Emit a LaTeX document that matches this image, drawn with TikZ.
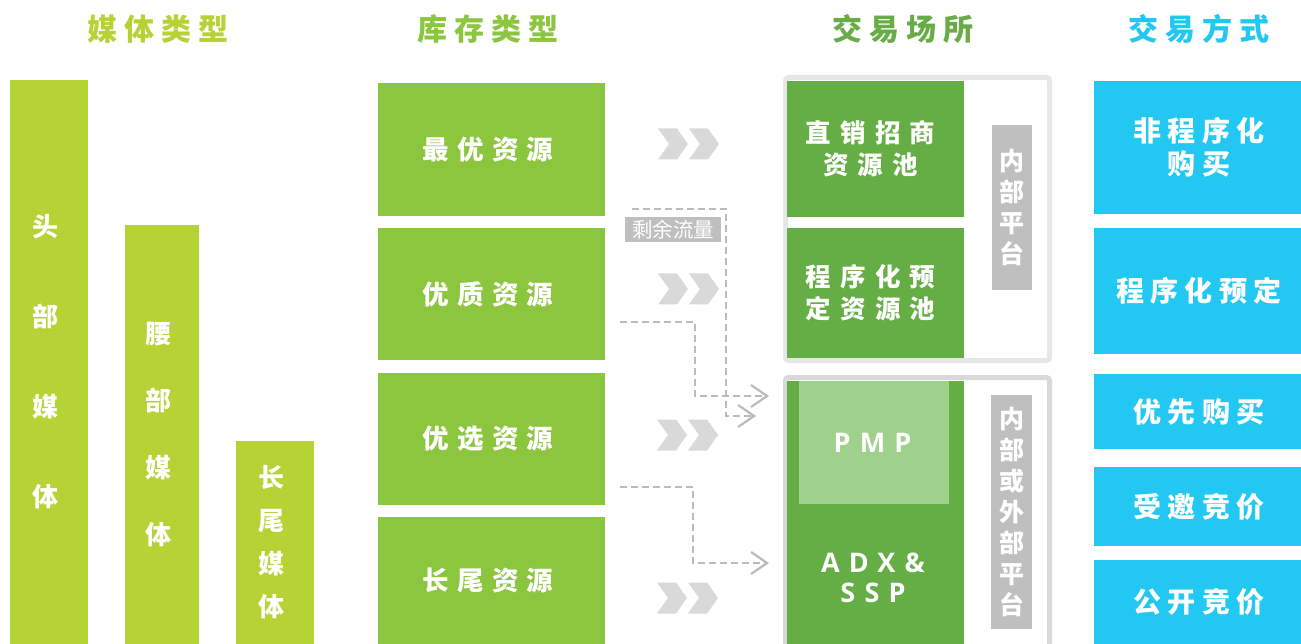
\documentclass[tikz,border=0pt]{standalone}
\usepackage{fontspec}
\setmainfont{Noto Sans CJK SC}
\newfontfamily\fhead{Noto Sans CJK SC}[LetterSpace=24]
\newfontfamily\finv{Noto Sans CJK SC}[LetterSpace=31]
\newfontfamily\fex{Noto Sans CJK SC}[LetterSpace=36]
\newfontfamily\fmode{Noto Sans CJK SC}[LetterSpace=22]
\newfontfamily\flatin{Open Sans}[LetterSpace=34]
\usetikzlibrary{arrows.meta}
\definecolor{cLime}{HTML}{B5D334}
\definecolor{cInv}{HTML}{8CC63F}
\definecolor{cEx}{HTML}{65AE46}
\definecolor{cExHead}{HTML}{69AC47}
\definecolor{cPmp}{HTML}{A0D18C}
\definecolor{cCyan}{HTML}{22C8F2}
\definecolor{cLbl}{HTML}{BFBFBF}
\definecolor{cChev}{HTML}{D9D9D9}
\definecolor{cFrameA}{HTML}{E6E6E6}
\definecolor{cFrameB}{HTML}{D9D9D9}
\definecolor{cDash}{HTML}{BBBBBB}
\tikzset{
  box/.style={draw=none, inner sep=0pt, outer sep=0pt, anchor=north west, text=white, align=center},
  hdr/.style={inner sep=0pt, font=\fhead\bfseries\fontsize{30}{30}\selectfont},
  vbar/.style={box, fill=cLime},
  vtxt/.style={inner sep=0pt, text=white, align=center, xshift=-3.5pt, font=\bfseries\fontsize{26}{#1}\selectfont},
  invbox/.style={box, fill=cInv, minimum width=227, font=\finv\bfseries\fontsize{26.5}{32}\selectfont},
  exbox/.style={box, fill=cEx, minimum width=177, font=\fex\bfseries\fontsize{25.5}{32}\selectfont},
  modebox/.style={box, fill=cCyan, minimum width=207, font=\fmode\bfseries\fontsize{28}{33}\selectfont},
  lbl/.style={box, fill=cLbl, font=\bfseries\fontsize{25}{31}\selectfont},
  frame/.style={draw=#1, line width=5pt, rounded corners=3pt, anchor=north west, inner sep=0pt, outer sep=0pt},
  flow/.style={draw=cDash, line width=2.2pt, dash pattern=on 7pt off 4pt,
    -{Straight Barb[length=16pt,width=22pt,line width=2.2pt]}},
  dchev/.pic={
    \fill[cChev] (0,-15.5) -- (19,-15.5) -- (30,0) -- (19,15.5) -- (0,15.5) -- (11,0) -- cycle;
    \fill[cChev] (31,-15.5) -- (50,-15.5) -- (61,0) -- (50,15.5) -- (31,15.5) -- (42,0) -- cycle;
  }
}
\begin{document}
\begin{tikzpicture}[x=1pt,y=-1pt]
\useasboundingbox (0,0) rectangle (1301,644);
\clip (0,0) rectangle (1301,644);
\fill[white] (0,0) rectangle (1301,644);

% headers
\node[hdr, text=cLime] (h1) at (158,29) {媒体类型};
\node[hdr, text=cInv] (h2) at (488,29) {库存类型};
\node[hdr, text=cExHead] (h3) at (903,29) {交易场所};
\node[hdr, text=cCyan] (h4) at (1199,29) {交易方式};

% media bars
\node[vbar, minimum width=78, minimum height=564] (m1) at (10,80) {};
\node[vbar, minimum width=74, minimum height=419] (m2) at (125,225) {};
\node[vbar, minimum width=78, minimum height=203] (m3) at (236,441) {};
\node[vtxt=90] (m1t) at (m1.center) {头\\部\\媒\\体};
\node[vtxt=67] (m2t) at (m2.center) {腰\\部\\媒\\体};
\node[vtxt=43] (m3t) at (m3.center) {长\\尾\\媒\\体};

% inventory
\node[invbox, minimum height=133] (i1) at (378,83) {最优资源\kern7pt};
\node[invbox, minimum height=132] (i2) at (378,228) {优质资源\kern7pt};
\node[invbox, minimum height=132] (i3) at (378,373) {优选资源\kern7pt};
\node[invbox, minimum height=127] (i4) at (378,517) {长尾资源\kern7pt};

% chevrons
\pic at (658,144) {dchev};
\pic at (658,289) {dchev};
\pic at (657,435) {dchev};
\pic at (657,598) {dchev};

% frames
\node[frame=cFrameA, minimum width=264, minimum height=283] (fr1) at (785.5,77.5) {};
\node[frame=cFrameB, minimum width=264, minimum height=320] (fr2) at (785.5,377.5) {};

% exchange boxes
\node[exbox, minimum height=136] (e1) at (787,81) {直销招商\kern10pt\\资源池\kern10pt};
\node[exbox, minimum height=130] (e2) at (787,228) {程序化预\kern10pt\\定资源池\kern10pt};
\node[box, fill=cEx, minimum width=177, minimum height=263] (e3) at (787,381) {};
\node[box, fill=cPmp, minimum width=150, minimum height=123, font=\flatin\bfseries\fontsize{27}{30}\selectfont] (pmp) at (799,381) {PMP\kern3pt};
\node[inner sep=0pt, text=white, align=center, font=\flatin\bfseries\fontsize{27}{30}\selectfont] (adx) at (873,578) {ADX\&\\SSP};

% platform labels
\node[lbl, minimum width=40, minimum height=165] (ip) at (992,125) {内\\部\\平\\台};
\node[lbl, minimum width=41, minimum height=234] (op) at (991,395) {内\\部\\或\\外\\部\\平\\台};

% trading modes
\node[modebox, minimum height=133] (t1) at (1094,81) {\kern3pt非程序化\\\kern3pt购买};
\node[modebox, minimum height=126] (t2) at (1094,228) {\kern3pt程序化预定};
\node[modebox, minimum height=75] (t3) at (1094,374) {\kern3pt优先购买};
\node[modebox, minimum height=79] (t4) at (1094,467) {\kern3pt受邀竞价};
\node[modebox, minimum height=84] (t5) at (1094,560) {\kern3pt公开竞价};

% dashed flows
\coordinate (s1) at (632,209);
\coordinate (k1) at (726,416);
\coordinate (e1t) at (756,416);
\coordinate (s2) at (620,322);
\coordinate (k2) at (695,396);
\coordinate (e2t) at (769,396);
\coordinate (s3) at (620,487);
\coordinate (k3) at (693,563);
\coordinate (e3t) at (769,563);
\draw[flow] (s2) -| (k2) -- (e2t);
\draw[flow] (s1) -| (k1) -- (e1t);
\draw[flow] (s3) -| (k3) -- (e3t);

\node[fill=cLbl, text=white, inner sep=0pt, minimum width=96, minimum height=25,
  font=\fontsize{20.5}{20}\selectfont] (rest) at (673,229.5) {剩余流量};
\end{tikzpicture}
\end{document}
